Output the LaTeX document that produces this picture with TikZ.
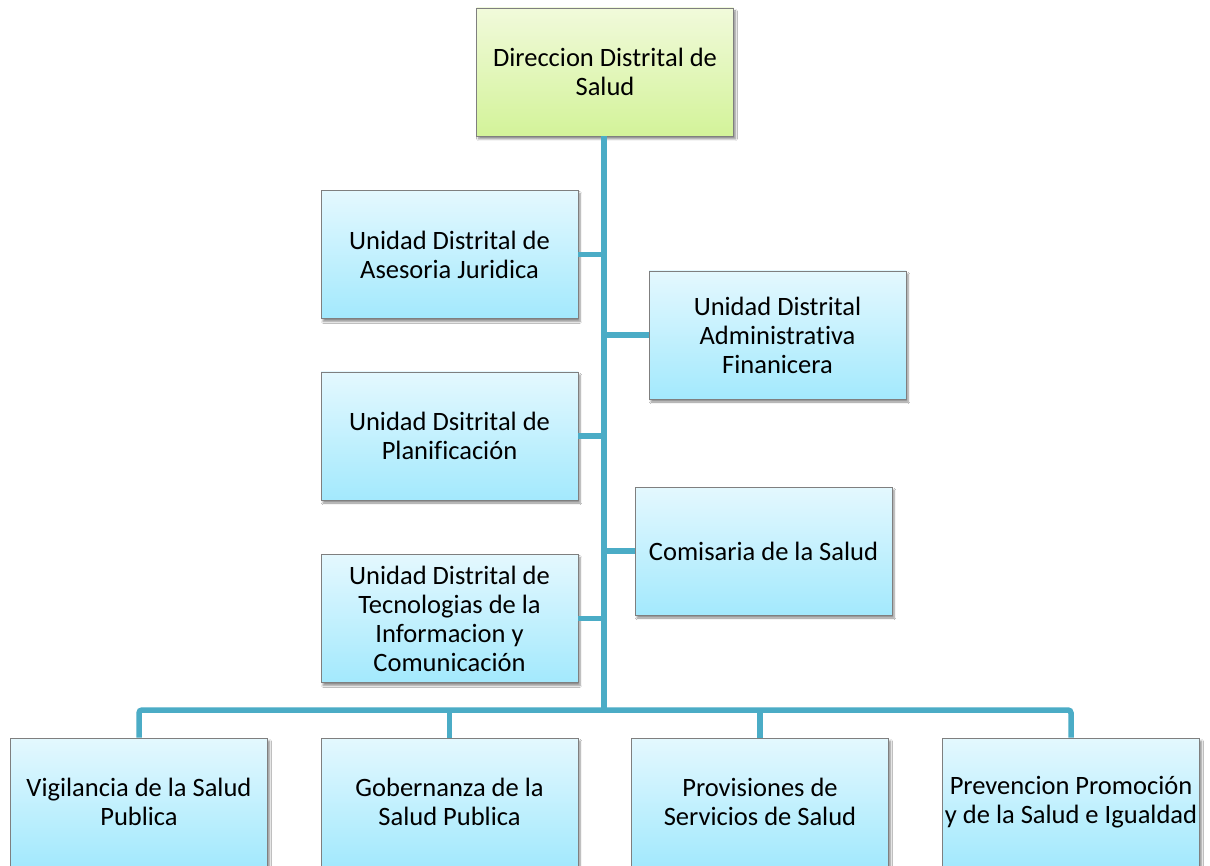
\documentclass[tikz,border=0pt]{standalone}
\usepackage{fontspec}
\setmainfont{Carlito}[Ligatures=CommonOff]
\usetikzlibrary{shadows.blur}
\definecolor{connblue}{HTML}{4BACC6}
\definecolor{boxedge}{HTML}{7F7F7F}
\definecolor{bluetop}{HTML}{E4F8FE}
\definecolor{bluebot}{HTML}{A3E9FD}
\definecolor{greentop}{HTML}{F1FADB}
\definecolor{greenbot}{HTML}{D3F399}
\tikzset{
  unitbox/.style={draw=boxedge, line width=0.9pt, minimum width=257pt, minimum height=128pt,
    align=center, inner sep=0pt, font=\fontsize{26.5}{29}\selectfont,
    top color=bluetop, bottom color=bluebot,
    blur shadow={shadow xshift=2pt, shadow yshift=-3pt, shadow blur steps=6, shadow opacity=45}},
  headbox/.style={unitbox, top color=greentop, bottom color=greenbot},
  conn/.style={draw=connblue, line width=5.5pt}
}
\begin{document}
\begin{tikzpicture}[x=1pt, y=-1pt]
\useasboundingbox (0,0) rectangle (1210,866);
\fill[white] (0,0) rectangle (1210,866);

% level of the bottom bus, on the trunk
\coordinate (bus) at (604,710);

% boxes
\node[headbox] (dir) at (605,72) {Direccion Distrital de\\Salud};
\node[unitbox] (jur) at (449.5,254.5) {Unidad Distrital de\\Asesoria Juridica};
\node[unitbox] (adm) at (777.5,335) {Unidad Distrital\\Administrativa\\Finanicera};
\node[unitbox] (pla) at (449.5,436) {Unidad Dsitrital de\\Planificación};
\node[unitbox] (com) at (763.5,551) {Comisaria de la Salud};
\node[unitbox] (tec) at (449.5,618.5) {Unidad Distrital de\\Tecnologias de la\\Informacion y\\Comunicación};
\node[unitbox] (vig) at (139,802) {Vigilancia de la Salud\\Publica};
\node[unitbox] (gob) at (449.5,802) {Gobernanza de la\\Salud Publica};
\node[unitbox] (pro) at (760,802) {Provisiones de\\Servicios de Salud};
\node[unitbox] (pre) at (1071,802) {Prevencion Promoción\\y de la Salud e Igualdad};

% trunk and side branches
\draw[conn] (dir.south -| bus) -- (bus);
\draw[conn] (jur.east) -- (jur.east -| bus);
\draw[conn] (adm.west) -- (adm.west -| bus);
\draw[conn] (pla.east) -- (pla.east -| bus);
\draw[conn] (com.west) -- (com.west -| bus);
\draw[conn] (tec.east) -- (tec.east -| bus);

% bottom bus and drops
\draw[conn, rounded corners=3pt] (vig.north) |- (bus) -| (pre.north);
\draw[conn] (gob.north |- bus) -- (gob.north);
\draw[conn] (pro.north |- bus) -- (pro.north);
\end{tikzpicture}
\end{document}
